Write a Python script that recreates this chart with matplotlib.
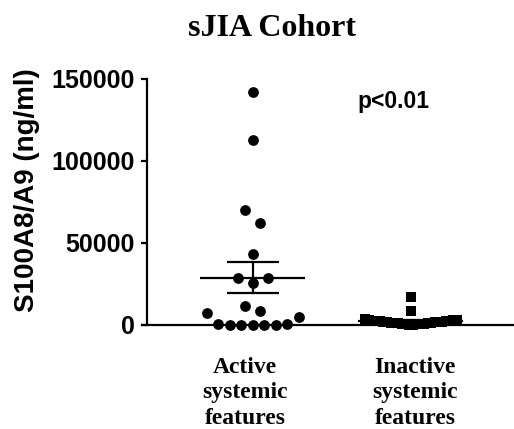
import numpy as np
import matplotlib
matplotlib.use("Agg")
import matplotlib.pyplot as plt
import matplotlib.transforms as mtransforms
from matplotlib.ticker import StrMethodFormatter

# ---------------- data ----------------
title = "sJIA Cohort"
ylabel = "S100A8/A9 (ng/ml)"
categories = ["Active\nsystemic\nfeatures", "Inactive\nsystemic\nfeatures"]
active_vals = [142000, 113000, 70000, 62000, 43500, 28700, 28700, 25900,
               11700, 8500, 7100, 4700, 600, 400, 250, 200, 150, 100, 300]
inactive_vals = [16800, 8400, 3800, 3100, 2900, 2750, 2600, 2500, 2400, 2300,
                 2200, 2100, 1950, 1850, 1700, 1600, 1500, 1400, 1300, 1150,
                 1050, 900, 800, 650, 500, 350, 200, 50]
yticks = [0, 50000, 100000, 150000]
ptext = "p<0.01"

# ---------------- figure ----------------
W, H = 514, 429
fig = plt.figure(figsize=(W / 100, H / 100), dpi=100)
fig.patch.set_facecolor("white")

ax_left_px, ax_right_px = 142, 514
ax_bottom_px, ax_top_px = 325, 79
ax = fig.add_axes([ax_left_px / W, 1 - ax_bottom_px / H,
                   (ax_right_px - ax_left_px) / W, (ax_bottom_px - ax_top_px) / H])

xlim = (-0.7025, 1.652)
ylim = (0, 150000)
ax.set_xlim(*xlim)
ax.set_ylim(*ylim)
px_per_unit = (ax_right_px - ax_left_px) / (xlim[1] - xlim[0])


def swarm_offsets(vals, thresh, spacing_px, max_half_px):
    vals = np.asarray(vals, dtype=float)
    order = np.argsort(vals, kind="stable")
    groups, cur, start = [], [], None
    for i in order:
        if start is None or vals[i] - start >= thresh:
            if cur:
                groups.append(cur)
            cur, start = [i], vals[i]
        else:
            cur.append(i)
    if cur:
        groups.append(cur)
    offs = np.zeros(len(vals))
    for g in groups:
        n = len(g)
        if n == 1:
            continue
        step = min(spacing_px, 2 * max_half_px / (n - 1))
        if n % 2:
            slots = [0.0]
            j = 1
            while len(slots) < n:
                slots += [j, -j]
                j += 1
        else:
            slots = []
            j = 0.5
            while len(slots) < n:
                slots += [j, -j]
                j += 1
        for idx, s in zip(g, slots[:n]):
            offs[idx] = s * step / px_per_unit
    return offs


groups = [(active_vals, "o", 60), (inactive_vals, "s", 55)]
for ci, (vals, mk, sz) in enumerate(groups):
    vals = np.asarray(vals, dtype=float)
    offs = swarm_offsets(vals, 8300, 15, 46)
    # mean +/- SEM
    m = vals.mean()
    sem = vals.std(ddof=1) / np.sqrt(len(vals))
    half_mean = 52.5 / px_per_unit
    half_cap = 26 / px_per_unit
    lw = 1.6
    ax.plot([ci - half_mean, ci + half_mean], [m, m], color="black", lw=lw, zorder=2, solid_capstyle="butt")
    ax.plot([ci - half_cap, ci + half_cap], [m + sem, m + sem], color="black", lw=lw, zorder=2, solid_capstyle="butt")
    ax.plot([ci - half_cap, ci + half_cap], [m - sem, m - sem], color="black", lw=lw, zorder=2, solid_capstyle="butt")
    ax.plot([ci, ci], [m - sem, m + sem], color="black", lw=lw, zorder=2)
    ax.scatter(ci + offs, vals, marker=mk, s=sz, color="black", linewidths=0,
               zorder=3, clip_on=False)

# spines
for s in ["top", "right"]:
    ax.spines[s].set_visible(False)
ax.spines["left"].set_position(("axes", 5 / (ax_right_px - ax_left_px)))
ax.spines["left"].set_linewidth(1.6)
ax.spines["bottom"].set_linewidth(1.6)

# y ticks
ax.set_yticks(yticks)
ax.yaxis.set_major_formatter(StrMethodFormatter("{x:.0f}"))
ax.tick_params(axis="y", direction="out", length=4, width=1.6, pad=5)
for lab in ax.get_yticklabels():
    lab.set_fontfamily("Liberation Sans")
    lab.set_fontweight("bold")
    lab.set_fontsize(18)

# x ticks
ax.set_xticks([0, 1])
ax.set_xticklabels(categories)
ax.tick_params(axis="x", length=0, pad=23)
shifts = [-8, 4]
for lab, dx in zip(ax.get_xticklabels(), shifts):
    lab.set_fontfamily("Liberation Serif")
    lab.set_fontweight("bold")
    lab.set_fontsize(17)
    lab.set_linespacing(1.28)
    lab.set_transform(lab.get_transform() +
                      mtransforms.ScaledTranslation(dx / 100, 0, fig.dpi_scale_trans))

# y label
fig.text(27 / W, 1 - 190 / H, ylabel, rotation=90, ha="center", va="center",
         fontfamily="Liberation Sans", fontweight="bold", fontsize=20)

# title
fig.text(272 / W, 1 - 36 / H, title, ha="center", va="baseline",
         fontfamily="Liberation Serif", fontweight="bold", fontsize=23)

# p value
fig.text(357 / W, 1 - 108 / H, ptext, ha="left", va="baseline",
         fontfamily="Liberation Sans", fontweight="bold", fontsize=16.5)

fig.savefig("out.png", dpi=100, facecolor="white")
